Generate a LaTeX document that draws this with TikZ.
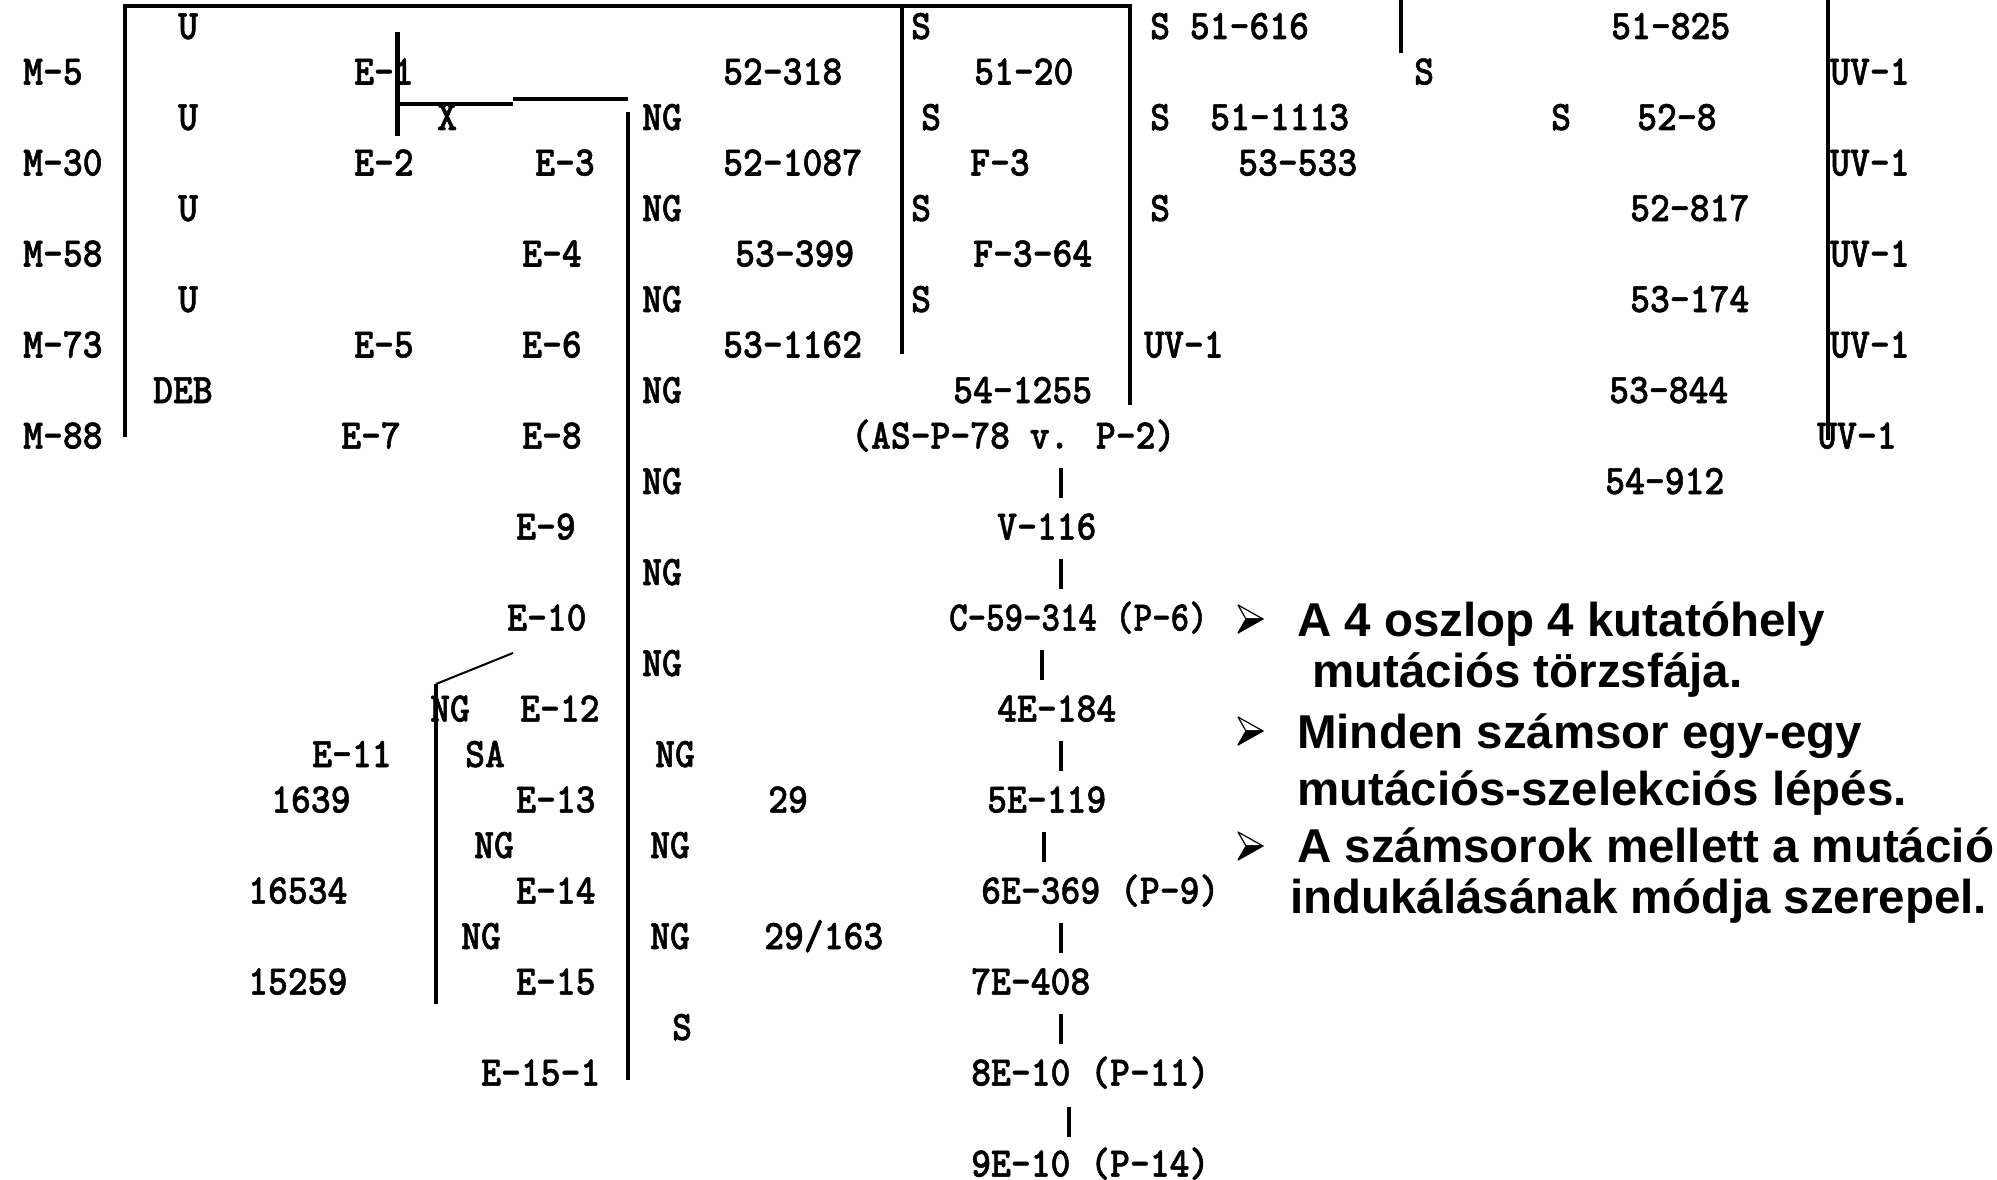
\documentclass[tikz,border=0pt]{standalone}
\usepackage{fontspec}
\usetikzlibrary{calc}
\newfontfamily\notefont{Liberation Sans}
\newfontfamily\bitfont{lmmonolt10-bold.otf}[FakeStretch=0.9,FakeBold=1.2]
\begin{document}
\begin{tikzpicture}[x=1pt,y=-1pt,
  lbl/.style={anchor=base west, inner sep=0pt, font=\bitfont\fontsize{42}{42}\selectfont},
  note/.style={anchor=base west, inner sep=0pt, font=\notefont\bfseries\fontsize{47.5}{47.5}\selectfont},
  rule/.style={line width=4pt},
  bar/.style={fill=black, inner sep=0pt, minimum width=4.5pt, minimum height=30pt},
]
\useasboundingbox (0,0) rectangle (1997,1180);

% ---- bracket lines of the four columns ----
\draw[rule] (125,437) -- (125,6) -- (1130,6) -- (1130,405);
\draw[rule] (902,6) -- (902,354);
\draw[line width=5pt] (397,32) -- (397,136);
\draw[rule] (397,104) -- (513,104);
\draw[rule] (513,99) -- (628,99);
\draw[rule] (628,112) -- (628,1080);
\draw[rule] (1401,0) -- (1401,53);
\draw[rule] (1828,0) -- (1828,440);
\draw[line width=2pt] (513,653) -- (436,684);
\draw[rule] (436,684) -- (436,1004);

% ---- column 1 ----
\node[lbl] (m5)  at (23,{39+45.5*1}) {M-5};
\node[lbl] (m30) at (23,{39+45.5*3}) {M-30};
\node[lbl] (m58) at (23,{39+45.5*5}) {M-58};
\node[lbl] (m73) at (23,{39+45.5*7}) {M-73};
\node[lbl] (m88) at (23,{39+45.5*9}) {M-88};
\node[lbl] (u0) at (178,{39+45.5*0}) {U};
\node[lbl] (u2) at (178,{39+45.5*2}) {U};
\node[lbl] (u4) at (178,{39+45.5*4}) {U};
\node[lbl] (u6) at (178,{39+45.5*6}) {U};
\node[lbl] (deb) at (153,{39+45.5*8}) {DEB};
\node[lbl] (e1) at (354,{39+45.5*1}) {E-1};
\node[lbl] (e2) at (354,{39+45.5*3}) {E-2};
\node[lbl] (x)  at (437,{39+45.5*2}) {X};
\node[lbl] (e3) at (535,{39+45.5*3}) {E-3};
\node[lbl] (e4) at (522,{39+45.5*5}) {E-4};
\node[lbl] (e5) at (354,{39+45.5*7}) {E-5};
\node[lbl] (e6) at (522,{39+45.5*7}) {E-6};
\node[lbl] (e7) at (341,{39+45.5*9}) {E-7};
\node[lbl] (e8) at (522,{39+45.5*9}) {E-8};
\node[lbl] (e9) at (516,{39+45.5*11}) {E-9};
\node[lbl] (e10) at (507,{39+45.5*13}) {E-10};
\node[lbl] (ngl1) at (430,{39+45.5*15}) {NG};
\node[lbl] (e12) at (520,{39+45.5*15}) {E-12};
\node[lbl] (e11) at (312,{39+45.5*16}) {E-11};
\node[lbl] (sa)  at (465,{39+45.5*16}) {SA};
\node[lbl] (n1639) at (271,{39+45.5*17}) {1639};
\node[lbl] (e13) at (516,{39+45.5*17}) {E-13};
\node[lbl] (ngl2) at (474,{39+45.5*18}) {NG};
\node[lbl] (n16534) at (248,{39+45.5*19}) {16534};
\node[lbl] (e14) at (516,{39+45.5*19}) {E-14};
\node[lbl] (ngl3) at (461,{39+45.5*20}) {NG};
\node[lbl] (n15259) at (248,{39+45.5*21}) {15259};
\node[lbl] (e15) at (516,{39+45.5*21}) {E-15};
\node[lbl] (e151) at (481,{39+45.5*23}) {E-15-1};

% ---- column 2 ----
\foreach \k [count=\i] in {2,4,6,8,10,12,14}
  \node[lbl] (ng\i) at (642,{39+45.5*\k}) {NG};
\node[lbl] (ng8)  at (655,{39+45.5*16}) {NG};
\node[lbl] (ng9)  at (650,{39+45.5*18}) {NG};
\node[lbl] (ng10) at (650,{39+45.5*20}) {NG};
\node[lbl] (s22)  at (672,{39+45.5*22}) {S};
\node[lbl] (c318)  at (723,{39+45.5*1}) {52-318};
\node[lbl] (c1087) at (723,{39+45.5*3}) {52-1087};
\node[lbl] (c399)  at (735,{39+45.5*5}) {53-399};
\node[lbl] (c1162) at (723,{39+45.5*7}) {53-1162};
\node[lbl] (c29)   at (768,{39+45.5*17}) {29};
\node[lbl] (c163)  at (764,{39+45.5*20}) {29/163};

% ---- column 3 ----
\node[lbl] (s0) at (911,{39+45.5*0}) {S};
\node[lbl] (d20) at (974,{39+45.5*1}) {51-20};
\node[lbl] (s2) at (921,{39+45.5*2}) {S};
\node[lbl] (f3) at (970,{39+45.5*3}) {F-3};
\node[lbl] (s4) at (911,{39+45.5*4}) {S};
\node[lbl] (f364) at (973,{39+45.5*5}) {F-3-64};
\node[lbl] (s6) at (911,{39+45.5*6}) {S};
\node[lbl] (d1255) at (953,{39+45.5*8}) {54-1255};
\node[lbl] (asp) at (851,{39+45.5*9}) {(AS-P-78 v. P-2)};
\node[lbl] (v116) at (997,{39+45.5*11}) {V-116};
\node[lbl] (c59) at (949,{39+45.5*13}) {\scalebox{0.93}[1]{C-59-314 (P-6)}};
\node[lbl] (e184) at (997,{39+45.5*15}) {4E-184};
\node[lbl] (e119) at (987,{39+45.5*17}) {5E-119};
\node[lbl] (e369) at (981,{39+45.5*19}) {6E-369 (P-9)};
\node[lbl] (e408) at (971,{39+45.5*21}) {7E-408};
\node[lbl] (e10p) at (971,{39+45.5*23}) {8E-10 (P-11)};
\node[lbl] (e10q) at (971,{39+45.5*25}) {9E-10 (P-14)};
\node[bar] (b1) at (1061,483) {};
\node[bar] (b2) at (1061,574) {};
\node[bar] (b3) at (1042,665) {};
\node[bar] (b4) at (1061,756) {};
\node[bar] (b5) at (1044,847) {};
\node[bar] (b6) at (1061,938) {};
\node[bar] (b7) at (1061,1029) {};
\node[bar] (b8) at (1069,1122) {};

% ---- column 4 ----
\node[lbl] (g616) at (1150,{39+45.5*0}) {S 51-616};
\node[lbl] (g1113s) at (1150,{39+45.5*2}) {S};
\node[lbl] (g1113) at (1210,{39+45.5*2}) {51-1113};
\node[lbl] (g533) at (1238,{39+45.5*3}) {53-533};
\node[lbl] (gs4) at (1150,{39+45.5*4}) {S};
\node[lbl] (guv) at (1144,{39+45.5*7}) {UV-1};
\node[lbl] (hs1) at (1414,{39+45.5*1}) {S};
\node[lbl] (hs2) at (1551,{39+45.5*2}) {S};
\node[lbl] (h825) at (1611,{39+45.5*0}) {51-825};
\node[lbl] (h8)   at (1637,{39+45.5*2}) {52-8};
\node[lbl] (h817) at (1630,{39+45.5*4}) {52-817};
\node[lbl] (h174) at (1630,{39+45.5*6}) {53-174};
\node[lbl] (h844) at (1609,{39+45.5*8}) {53-844};
\node[lbl] (h912) at (1605,{39+45.5*10}) {54-912};
\node[lbl] (uv1) at (1830,{39+45.5*1}) {UV-1};
\node[lbl] (uv2) at (1830,{39+45.5*3}) {UV-1};
\node[lbl] (uv3) at (1830,{39+45.5*5}) {UV-1};
\node[lbl] (uv4) at (1830,{39+45.5*7}) {UV-1};
\node[lbl] (uv5) at (1817,{39+45.5*9}) {UV-1};

% ---- notes with arrowhead bullets ----
\coordinate (t1) at (1250,619);
\coordinate (t2) at (1250,731);
\coordinate (t3) at (1250,846);
\foreach \t in {t1,t2,t3} {
  \filldraw[fill=white, draw=black, line width=1.2pt, line join=round]
    ($(\t)+(-12,-14)$) -- ($(\t)+(13,0)$) -- ($(\t)+(-4,0)$) -- cycle;
  \filldraw[fill=black, draw=black, line width=1.2pt, line join=round]
    ($(\t)+(-4,0)$) -- ($(\t)+(13,0)$) -- ($(\t)+(-12,14)$) -- cycle;
}
\node[note] (n1) at (1297,636) {A 4 oszlop 4 kutatóhely};
\node[note] (n2) at (1312,687) {mutációs törzsfája.};
\node[note] (n3) at (1297,748) {Minden számsor egy-egy};
\node[note] (n4) at (1297,805) {mutációs-szelekciós lépés.};
\node[note] (n5) at (1297,862) {A számsorok mellett a mutáció};
\node[note] (n6) at (1290,913) {indukálásának módja szerepel.};
\end{tikzpicture}
\end{document}
